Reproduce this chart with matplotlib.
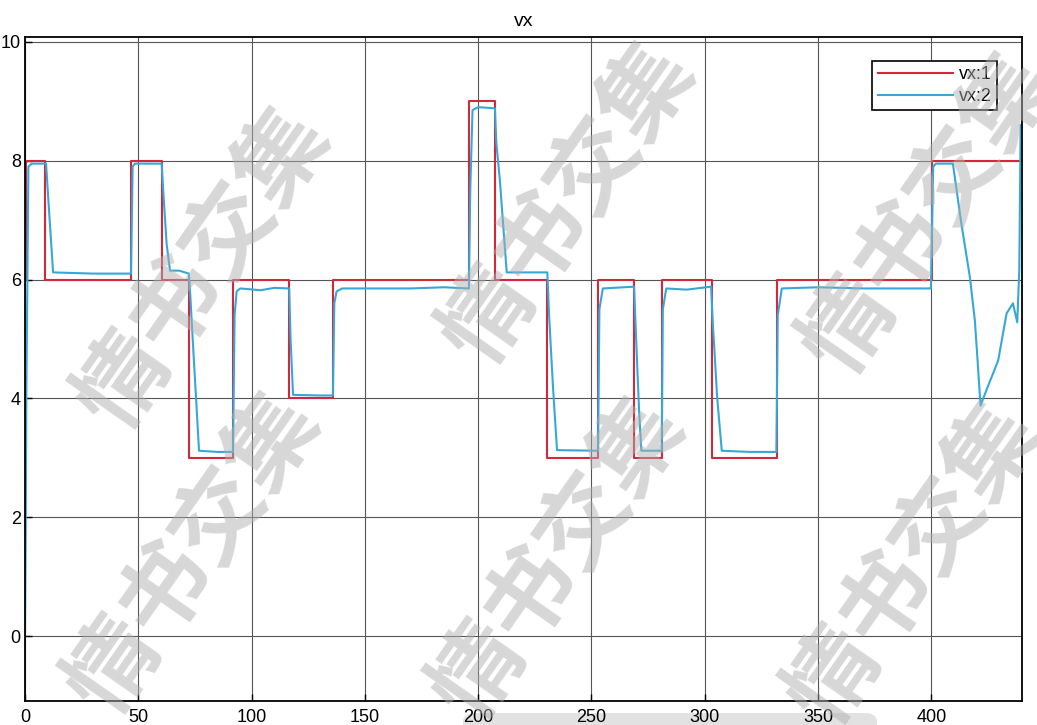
import numpy as np
import matplotlib
matplotlib.use("Agg")
import matplotlib.pyplot as plt
from matplotlib.patches import FancyBboxPatch

# ── data ─────────────────────────────────────────────────────────────────────
# vx:1  reference speed (piecewise constant, step 'post')
ref_t = [0, 0.3, 9, 47, 60.3, 72.5, 91.9, 116.7, 135.8, 196, 207.4, 230.2,
         253, 268.9, 281.2, 303, 331.7, 400.3, 440]
ref_v = [6, 8, 6, 8, 6, 3, 6, 4, 6, 9, 6, 3, 6, 3, 6, 3, 6, 8, 8]

# vx:2  tracked speed
act_t = [0, 0.3, 0.6, 1.5, 3, 9.3, 10.2, 12.4, 30, 46.8, 47.5, 48.5,
         60.3, 61, 62.5, 64, 68, 72.3, 73, 74, 75.5, 76.8, 85, 91.8,
         92.5, 93.4, 95, 104, 110, 116.6, 117.2, 118.3, 130, 135.9,
         136.5, 137.5, 140, 170, 185, 195.9, 196.5, 197.5, 200, 207.4,
         208, 209.5, 212.6, 230.5, 231.3, 233, 234.8, 252.9, 253.5, 255,
         268.8, 269.5, 271, 272, 281, 281.5, 283, 292, 302.8, 303.5,
         305.5, 307.5, 320, 331.6, 332.2, 334, 350, 370, 399.8, 400.8,
         402, 409.5, 413, 417, 419.2, 420.3, 421.7, 423.7, 429.5, 433.2,
         436, 437.9, 438.8, 439.4, 440]
act_v = [0, 1.7, 4.1, 7.9, 7.95, 7.95, 7.4, 6.12, 6.1, 6.1, 7.9, 7.95,
         7.95, 7.5, 6.6, 6.15, 6.15, 6.1, 5.7, 5.0, 4.0, 3.12, 3.1, 3.1,
         5.4, 5.8, 5.85, 5.82, 5.86, 5.85, 5.0, 4.06, 4.05, 4.05,
         5.6, 5.8, 5.85, 5.85, 5.87, 5.85, 7.5, 8.85, 8.9, 8.88,
         8.3, 7.7, 6.12, 6.12, 5.4, 4.2, 3.13, 3.12, 5.5, 5.85,
         5.88, 5.2, 3.8, 3.12, 3.12, 5.5, 5.85, 5.83, 5.88, 5.3,
         4.0, 3.12, 3.1, 3.1, 5.4, 5.85, 5.87, 5.85, 5.85, 7.9,
         7.95, 7.95, 7.0, 6.04, 5.31, 4.69, 3.88, 4.08, 4.64, 5.43,
         5.6, 5.28, 6.16, 8.6, 8.6]

x_ticks = [0, 50, 100, 150, 200, 250, 300, 350, 400]
y_ticks = [0, 2, 4, 6, 8, 10]

# watermark centres (pixels in the 1037x725 frame)
wm_text = "情书交集"
wm_pos = [(205, 270), (570, 205), (930, 215), (195, 555), (560, 560), (915, 565)]

W, H = 1037, 725
plt.rcParams["font.family"] = ["Liberation Sans", "DejaVu Sans"]

fig = plt.figure(figsize=(W / 100, H / 100), dpi=100)
ax = fig.add_axes([25 / W, 1 - 701 / H, (1022 - 25) / W, (701 - 37) / H])

ax.step(ref_t, ref_v, where="post", color="#d0283c", lw=1.5, label="vx:1")
ax.plot(act_t, act_v, color="#35a8d8", lw=1.5, label="vx:2")

ax.set_xlim(0, 440)
ax.set_ylim(-1.09, 10.08)
ax.set_xticks(x_ticks)
ax.set_yticks(y_ticks)
ax.grid(True, color="#555555", lw=0.8)
ax.set_axisbelow(True)
ax.tick_params(direction="in", length=5, labelsize=13, width=1)
ax.tick_params(axis="x", pad=6)
ax.tick_params(axis="y", pad=3)
for sp in ax.spines.values():
    sp.set_linewidth(1.3)
ax.set_title("vx", fontsize=14, pad=8)

leg = ax.legend(loc="upper right", bbox_to_anchor=(0.975, 0.964), borderaxespad=0,
                fontsize=13, fancybox=False, framealpha=1, edgecolor="black",
                handlelength=4.2, handletextpad=0.3, labelspacing=0.25,
                borderpad=0.3)
leg.get_frame().set_linewidth(1.2)

# grey bar at the bottom of the screenshot
fig.patches.append(FancyBboxPatch((463 / W, -0.02), (877 - 463) / W, (0.02 + 12 / H),
                                  boxstyle="round,pad=0,rounding_size=0.012",
                                  transform=fig.transFigure, fc="#e2e2e2", ec="none",
                                  zorder=-1))

# watermark
for (px, py) in wm_pos:
    fig.text(px / W, 1 - py / H, wm_text, rotation=55, ha="center", va="center",
             fontsize=66, color="#b0b0b0", alpha=0.5, fontweight="bold",
             family=["Noto Sans CJK SC", "DejaVu Sans"], zorder=10)

fig.savefig("out.png", dpi=100)
